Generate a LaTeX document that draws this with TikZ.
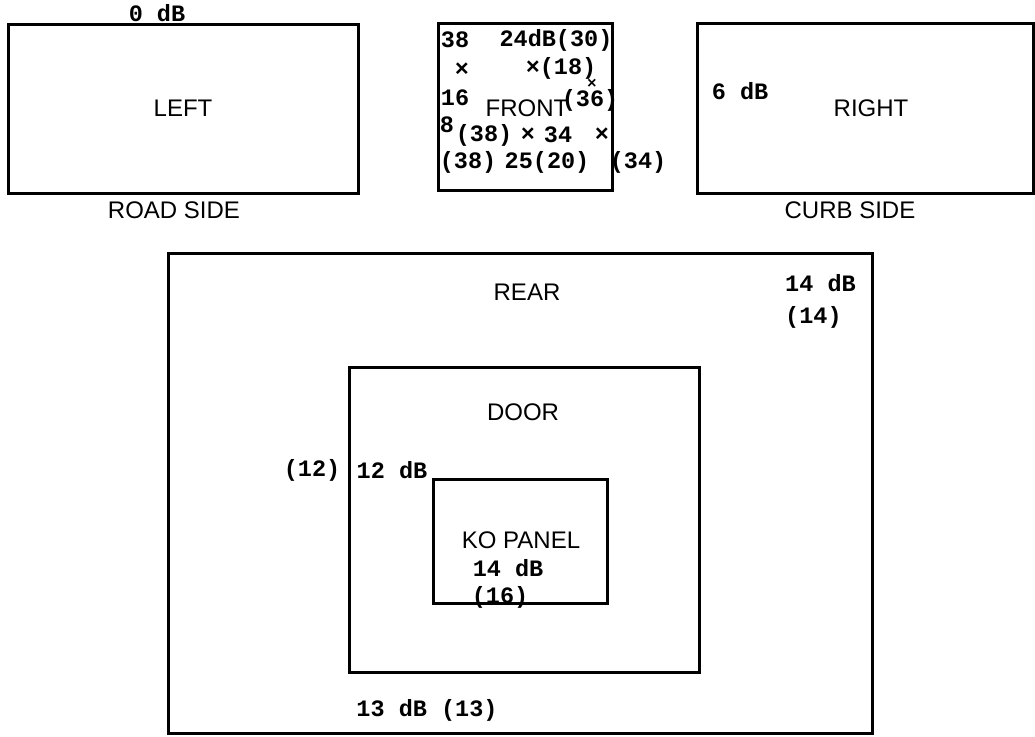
\documentclass[tikz,border=0pt]{standalone}
\usepackage{fontspec}
\setmainfont{Liberation Sans}
\setmonofont{Liberation Mono}
\usetikzlibrary{positioning}

\tikzset{
  panel/.style={draw=black, line width=3pt},
  lbl/.style={font=\fontsize{24}{28}\selectfont, inner sep=0pt},
  num/.style={font=\fontsize{23.5}{28}\ttfamily\bfseries, inner sep=0pt}
}

\begin{document}
\begin{tikzpicture}[x=1pt,y=-1pt]
  \useasboundingbox (0,0) rectangle (1035,736);

  % Top row: the three panels
  \draw[panel] (8,24) rectangle (358,193);
  \draw[panel] (438,23) rectangle (612,190);
  \draw[panel] (697,23) rectangle (1033,193);

  % Left panel
  \node[num] (zerodb) at (157,13) {0 dB};
  \node[lbl] (lefttxt) at (183,108) {LEFT};
  \node[lbl] (roadside) at (174,210) {ROAD SIDE};

  % Front panel, readings
  \node[num] (fa) at (455,40) {38};
  \node[num] (fb) at (556,40) {24dB(30)};
  \node[num] (fc) at (462,70) {×};
  \node[num] (fd) at (561,68) {×(18)};
  \node[num, font=\fontsize{16}{18}\ttfamily\bfseries] (fe) at (592,84) {×};
  \node[num] (ff) at (455,98) {16};
  \node[lbl] (fronttxt) at (527,108) {FRONT};
  \node[num] (fg) at (590,100) {(36)};
  \node[num] (fh) at (447,125) {8};
  \node[num] (fi) at (484,135) {(38)};
  \node[num] (fj) at (528,135) {×};
  \node[num] (fk) at (558,135) {34};
  \node[num] (fl) at (602,135) {×};
  \node[num] (fm) at (468,162) {(38)};
  \node[num] (fn) at (547,162) {25(20)};
  \node[num] (fo) at (638,162) {(34)};

  % Right panel
  \node[num] (sixdb) at (740,91) {6 dB};
  \node[lbl] (righttxt) at (871,108) {RIGHT};
  \node[lbl] (curbside) at (850,210) {CURB SIDE};

  % Rear with door and KO panel
  \draw[panel] (168,253) rectangle (872,733);
  \draw[panel] (349,367) rectangle (699,672);
  \draw[panel] (433,479) rectangle (607,603);

  \node[lbl] (reartxt) at (527,292) {REAR};
  \node[num, anchor=west] (reardb) at (785,283) {14 dB};
  \node[num, anchor=west] (rearref) at (785,317) {(14)};
  \node[lbl] (doortxt) at (523,412) {DOOR};
  \node[num] (doorref) at (312,470) {(12)};
  \node[num] (doordb) at (392,470) {12 dB};
  \node[lbl] (kotxt) at (521,540) {KO PANEL};
  \node[num] (kodb) at (508,568) {14 dB};
  \node[num] (koref) at (500,597) {(16)};
  \node[num] (reardbb) at (427,710) {13 dB (13)};
\end{tikzpicture}
\end{document}
